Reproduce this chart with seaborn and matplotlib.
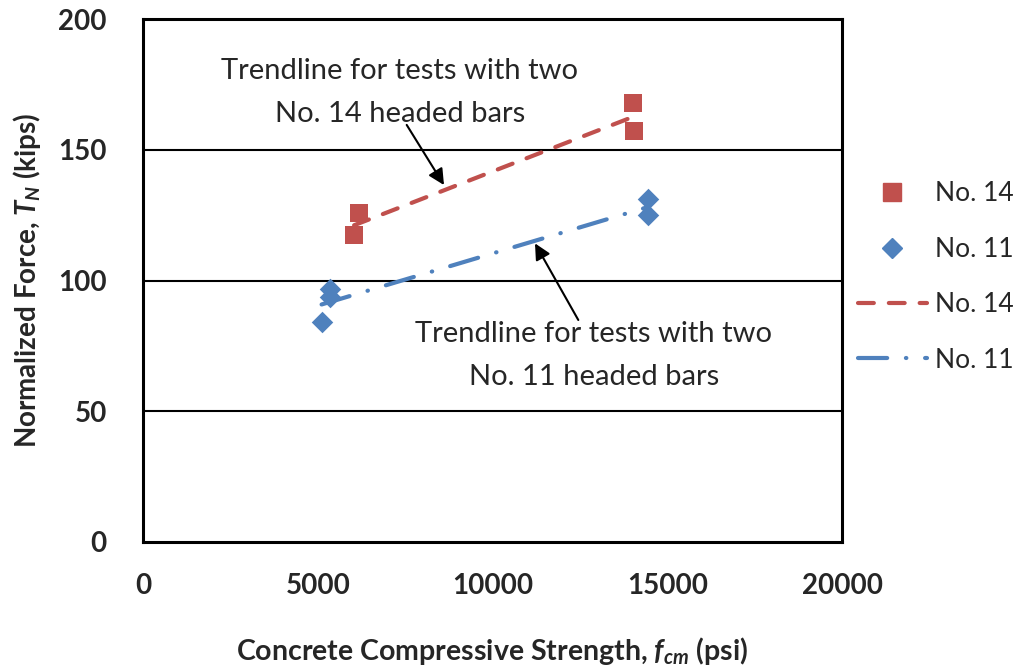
import numpy as np
import pandas as pd
import matplotlib
matplotlib.use("Agg")
import matplotlib.pyplot as plt
from matplotlib.lines import Line2D
import seaborn as sns

# Test data
fcm_no14 = [6040, 6190, 14030, 14050]
tn_no14 = [117.4, 125.7, 168.0, 157.3]
fcm_no11 = [5110, 5350, 5350, 14440, 14460]
tn_no11 = [84.2, 93.8, 96.6, 125.0, 131.0]

x_ticks = [0, 5000, 10000, 15000, 20000]
y_ticks = [0, 50, 100, 150, 200]

red = '#C0504D'
blue = '#4F81BD'

df14 = pd.DataFrame({'fcm': fcm_no14, 'TN': tn_no14})
df11 = pd.DataFrame({'fcm': fcm_no11, 'TN': tn_no11})

sns.set_style('white')
plt.rcParams['font.family'] = ['Lato', 'DejaVu Sans']
plt.rcParams['mathtext.fontset'] = 'custom'
plt.rcParams['mathtext.it'] = 'Lato:italic:bold'
plt.rcParams['mathtext.rm'] = 'Lato:bold'

fig = plt.figure(figsize=(10.22, 6.66), dpi=100)
ax = fig.add_axes([143 / 1022, 1 - 542 / 666, (842 - 143) / 1022, (542 - 19) / 666])

# horizontal gridlines
for yv in [50, 100, 150]:
    ax.axhline(yv, color='black', lw=1.5, zorder=1)

dash14 = (0, (3.8, 3.6))
dash11 = (0, (7, 4.5, 0.1, 4.5))

# trendlines (linear fits)
sns.regplot(data=df14, x='fcm', y='TN', scatter=False, ci=None, ax=ax,
            line_kws=dict(color=red, lw=3, linestyle=dash14,
                          dash_capstyle='round', zorder=3))
sns.regplot(data=df11, x='fcm', y='TN', scatter=False, ci=None, ax=ax,
            line_kws=dict(color=blue, lw=3, linestyle=dash11,
                          dash_capstyle='round', zorder=3))

# data points
sns.scatterplot(data=df14, x='fcm', y='TN', marker='s', s=180, color=red,
                edgecolor=red, linewidth=0, ax=ax, zorder=4)
sns.scatterplot(data=df11, x='fcm', y='TN', marker='D', s=120, color=blue,
                edgecolor=blue, linewidth=0, ax=ax, zorder=4)

ax.set_xlim(0, 20000)
ax.set_ylim(0, 200)
ax.set_xticks(x_ticks)
ax.set_yticks(y_ticks)
ax.tick_params(axis='both', length=0, labelsize=20, pad=22)
ax.tick_params(axis='y', pad=26)
for lab in ax.get_xticklabels() + ax.get_yticklabels():
    lab.set_fontweight('bold')
for sp in ax.spines.values():
    sp.set_visible(True)
    sp.set_color('black')
    sp.set_linewidth(2.2)

ax.set_xlabel(r'Concrete Compressive Strength, $f_{cm}$ (psi)',
              fontsize=20.5, fontweight='bold', labelpad=26)
ax.set_ylabel(r'Normalized Force, $T_N$ (kips)',
              fontsize=20, fontweight='bold', labelpad=11)

# annotations
ax.text(7353, 171.9, 'Trendline for tests with two\nNo. 14 headed bars',
        ha='center', va='center', fontsize=21, linespacing=1.8)
ax.annotate('', xy=(8612, 136.5), xytext=(7545, 159.5),
            arrowprops=dict(arrowstyle='-|>', color='black', lw=1.5,
                            mutation_scale=24, shrinkA=0, shrinkB=0))
ax.text(12904, 71.3, 'Trendline for tests with two\nNo. 11 headed bars',
        ha='center', va='center', fontsize=21, linespacing=1.8)
ax.annotate('', xy=(11216, 114.2), xytext=(12455, 84.9),
            arrowprops=dict(arrowstyle='-|>', color='black', lw=1.5,
                            mutation_scale=24, shrinkA=0, shrinkB=0))

handles = [
    Line2D([0], [0], marker='s', color=red, lw=0, markersize=13),
    Line2D([0], [0], marker='D', color=blue, lw=0, markersize=10),
    Line2D([0], [0], color=red, lw=3, linestyle=dash14, dash_capstyle='round'),
    Line2D([0], [0], color=blue, lw=3, linestyle=dash11, dash_capstyle='round'),
]
fig.legend(handles, ['No. 14', 'No. 11', 'No. 14', 'No. 11'],
           loc='center left', bbox_to_anchor=(858 / 1022, 1 - 277 / 666),
           frameon=False, fontsize=19, handlelength=2.6, handletextpad=0.3,
           labelspacing=1.15, borderaxespad=0, borderpad=0)

fig.savefig('out.png', dpi=100)
